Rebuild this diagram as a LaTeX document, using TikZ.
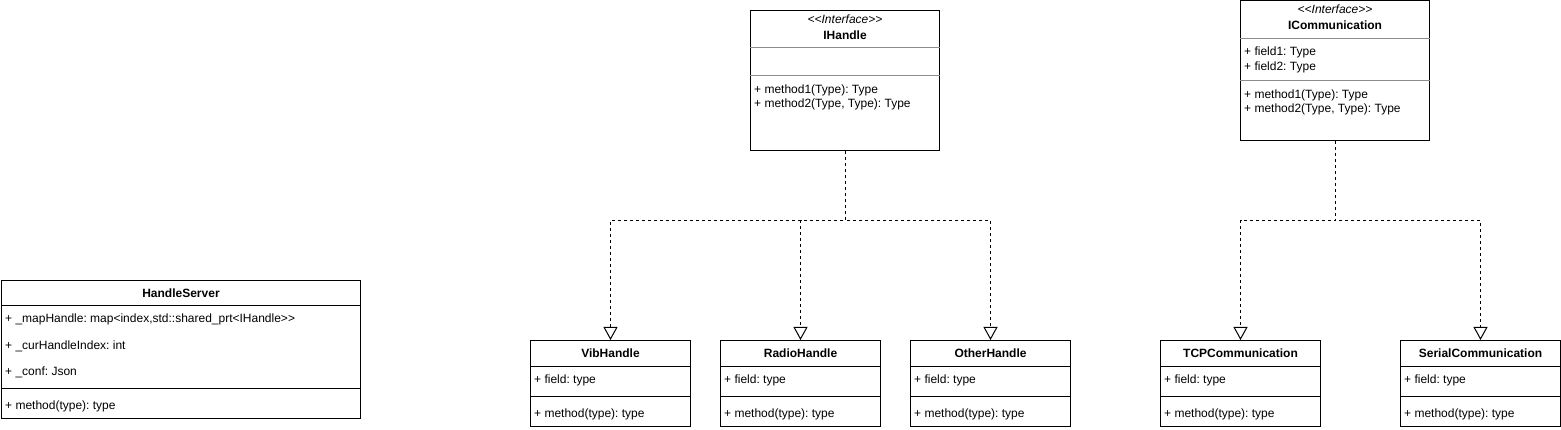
\documentclass[tikz,border=0pt]{standalone}
\usepackage{fontspec}
\newfontfamily\umlfont{Liberation Sans}
\usetikzlibrary{arrows.meta,calc}
\frenchspacing
\begin{document}
\begin{tikzpicture}[x=1pt,y=-1pt,
  cls/.style={draw=black, line width=1pt, fill=white, inner sep=0pt, anchor=north west},
  sepline/.style={draw=black, line width=1pt},
  isepline/.style={draw=black!45, line width=1pt},
  txt/.style={inner sep=0pt, anchor=base west, font=\umlfont\frenchspacing\fontsize{12}{14.4}\selectfont},
  ttl/.style={inner sep=0pt, anchor=base, font=\umlfont\frenchspacing\fontsize{12}{14.4}\selectfont\bfseries},
  stereo/.style={inner sep=0pt, anchor=base, font=\umlfont\frenchspacing\fontsize{12}{14.4}\selectfont\itshape},
  dep/.style={draw=black, line width=1pt, dash pattern=on 3pt off 3pt, -{Triangle[open, length=13pt, width=14pt]}}
]
\useasboundingbox (0,0) rectangle (1561,430);

% ---------- HandleServer ----------
\node[cls, minimum width=359pt, minimum height=138pt] (hs) at (1,280) {};
\draw[sepline] ($(hs.north west)+(0,26)$) -- ($(hs.north east)+(0,26)$);
\draw[sepline] ($(hs.north west)+(0,108)$) -- ($(hs.north east)+(0,108)$);
\node[ttl] (hst) at ($(hs.north)+(0,17.5)$) {HandleServer};
\node[txt] (hsa1) at ($(hs.north west)+(4,43)$) {+ \_mapHandle: map<index,std::shared\_prt<IHandle>{}>};
\node[txt] (hsa2) at ($(hs.north west)+(4,69)$) {+ \_curHandleIndex: int};
\node[txt] (hsa3) at ($(hs.north west)+(4,95)$) {+ \_conf: Json};
\node[txt] (hsm1) at ($(hs.north west)+(4,129)$) {+ method(type): type};

% ---------- IHandle ----------
\node[cls, minimum width=189pt, minimum height=140pt] (ih) at (750,10) {};
\draw[isepline] ($(ih.north west)+(0,38)$) -- ($(ih.north east)+(0,38)$);
\draw[isepline] ($(ih.north west)+(0,66)$) -- ($(ih.north east)+(0,66)$);
\node[stereo] (ihs) at ($(ih.north)+(0,13.3)$) {<{}<Interface>{}>};
\node[ttl] (iht) at ($(ih.north)+(0,30)$) {IHandle};
\node[txt] (ihm1) at ($(ih.north west)+(4,83.5)$) {+ method1(Type): Type};
\node[txt] (ihm2) at ($(ih.north west)+(4,98)$) {+ method2(Type, Type): Type};

% ---------- ICommunication ----------
\node[cls, minimum width=189pt, minimum height=139.5pt] (ic) at (1240,0.5) {};
\draw[isepline] ($(ic.north west)+(0,38.5)$) -- ($(ic.north east)+(0,38.5)$);
\draw[isepline] ($(ic.north west)+(0,80.5)$) -- ($(ic.north east)+(0,80.5)$);
\node[stereo] (ics) at ($(ic.north)+(0,12.8)$) {<{}<Interface>{}>};
\node[ttl] (ict) at ($(ic.north)+(0,29.5)$) {ICommunication};
\node[txt] (ica1) at ($(ic.north west)+(4,55.5)$) {+ field1: Type};
\node[txt] (ica2) at ($(ic.north west)+(4,69.8)$) {+ field2: Type};
\node[txt] (icm1) at ($(ic.north west)+(4,97.8)$) {+ method1(Type): Type};
\node[txt] (icm2) at ($(ic.north west)+(4,112.2)$) {+ method2(Type, Type): Type};

% ---------- small classes ----------
\foreach \nm/\x/\title in {vib/530/VibHandle, rad/720/RadioHandle, oth/910/OtherHandle, tcp/1160/TCPCommunication, ser/1400/SerialCommunication}{
  \node[cls, minimum width=160pt, minimum height=86pt] (\nm) at (\x,340) {};
  \draw[sepline] ($(\nm.north west)+(0,26)$) -- ($(\nm.north east)+(0,26)$);
  \draw[sepline] ($(\nm.north west)+(0,56)$) -- ($(\nm.north east)+(0,56)$);
  \node[ttl] (\nm-t) at ($(\nm.north)+(0,17.3)$) {\title};
  \node[txt] (\nm-a) at ($(\nm.north west)+(4,43.3)$) {+ field: type};
  \node[txt] (\nm-m) at ($(\nm.north west)+(4,77.3)$) {+ method(type): type};
}

% ---------- realizations ----------
\draw[dep] (ih.south) -- ++(0,70) -| (vib.north);
\draw[dep] (ih.south) -- ++(0,70) -| (rad.north);
\draw[dep] (ih.south) -- ++(0,70) -| (oth.north);
\draw[dep] (ic.south) -- ++(0,80) -| (tcp.north);
\draw[dep] (ic.south) -- ++(0,80) -| (ser.north);
\end{tikzpicture}
\end{document}
